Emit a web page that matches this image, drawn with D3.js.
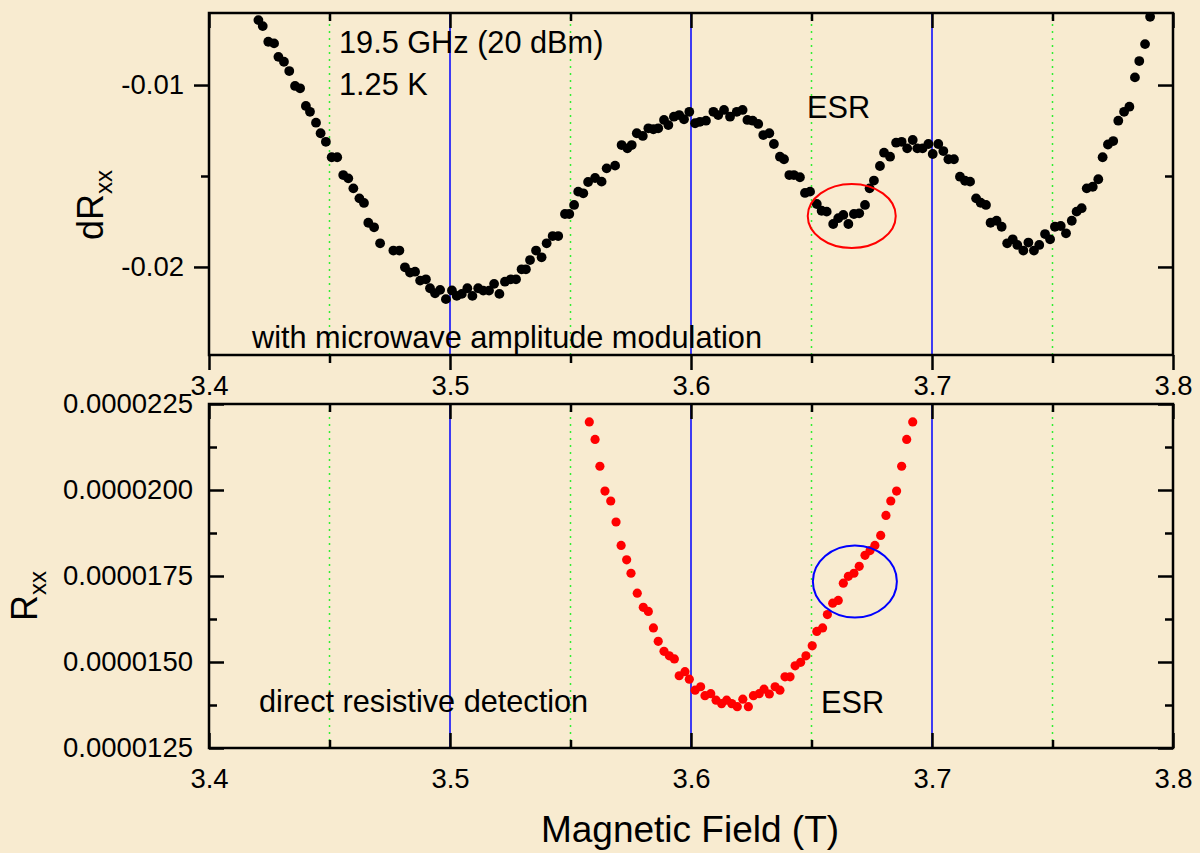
<!DOCTYPE html>
<html>
<head>
<meta charset="utf-8">
<script src="https://cdn.jsdelivr.net/npm/d3@7"></script>
<style>
  body { margin: 0; background: #f8ebd0; }
  svg { display: block; font-family: "Liberation Sans", Arial, sans-serif; }
  .axis path, .axis line { stroke: #000; stroke-width: 2.5; }
  .axis text { font-size: 27.5px; fill: #000; font-family: "Liberation Sans", Arial, sans-serif; }
  .ann { font-size: 30.7px; fill: #000; }
</style>
</head>
<body>
<script>
// top panel: dRxx vs field (with microwave amplitude modulation)
var fieldTop = [3.4205,3.4223,3.4246,3.4270,3.4288,3.4311,3.4333,3.4357,3.4378,3.4402,3.4419,3.4444,3.4463,3.4485,3.4509,3.4532,3.4557,3.4578,3.4599,3.4624,
  3.4643,3.4661,3.4685,3.4710,3.4765,3.4790,3.4813,3.4834,3.4855,3.4876,3.4900,3.4917,3.4938,3.4959,3.4983,3.5008,3.5028,3.5049,3.5072,3.5093,
  3.5117,3.5138,3.5162,3.5183,3.5205,3.5228,3.5252,3.5274,3.5297,3.5315,3.5332,3.5357,3.5380,3.5401,3.5426,3.5449,3.5477,3.5495,3.5515,3.5532,
  3.5553,3.5573,3.5602,3.5629,3.5650,3.5685,3.5712,3.5736,3.5754,3.5775,3.5800,3.5823,3.5844,3.5864,3.5888,3.5906,3.5929,3.5951,3.5971,3.5993,
  3.6017,3.6037,3.6062,3.6093,3.6113,3.6137,3.6162,3.6190,3.6214,3.6234,3.6256,3.6279,3.6300,3.6325,3.6344,3.6369,3.6386,3.6408,3.6427,3.6452,
  3.6473,3.6494,3.6522,3.6542,3.6563,3.6590,3.6611,3.6632,3.6653,3.6676,3.6698,3.6722,3.6741,3.6759,3.6784,3.6801,3.6826,3.6851,3.6874,3.6897,
  3.6920,3.6939,3.6961,3.6985,3.7003,3.7026,3.7047,3.7068,3.7091,3.7116,3.7137,3.7158,3.7183,3.7202,3.7224,3.7243,3.7268,3.7289,3.7312,3.7335,
  3.7354,3.7379,3.7400,3.7423,3.7445,3.7469,3.7490,3.7510,3.7534,3.7556,3.7580,3.7600,3.7621,3.7642,3.7667,3.7690,3.7708,3.7730,3.7752,3.7773,
  3.7797,3.7819,3.7842,3.7860,3.7884,3.7905];
var dRxx = [-0.00643,-0.00676,-0.00762,-0.00771,-0.00845,-0.00872,-0.00923,-0.01005,-0.01018,-0.01115,-0.01147,-0.01207,-0.01265,-0.01312,-0.01397,-0.01397,-0.01495,-0.01513,-0.01568,-0.01623,
  -0.01648,-0.01757,-0.01782,-0.01870,-0.01910,-0.01910,-0.02002,-0.02031,-0.02026,-0.02075,-0.02068,-0.02117,-0.02145,-0.02126,-0.02177,-0.02129,-0.02159,-0.02148,-0.02117,-0.02159,
  -0.02117,-0.02130,-0.02130,-0.02093,-0.02148,-0.02081,-0.02068,-0.02068,-0.02013,-0.02013,-0.01962,-0.01910,-0.01947,-0.01870,-0.01830,-0.01830,-0.01709,-0.01709,-0.01659,-0.01586,
  -0.01595,-0.01533,-0.01511,-0.01531,-0.01458,-0.01443,-0.01330,-0.01348,-0.01330,-0.01265,-0.01280,-0.01238,-0.01243,-0.01238,-0.01192,-0.01220,-0.01174,-0.01165,-0.01188,-0.01147,
  -0.01210,-0.01202,-0.01196,-0.01147,-0.01165,-0.01137,-0.01174,-0.01147,-0.01137,-0.01192,-0.01196,-0.01214,-0.01275,-0.01265,-0.01324,-0.01394,-0.01408,-0.01495,-0.01495,-0.01507,
  -0.01593,-0.01586,-0.01654,-0.01691,-0.01696,-0.01764,-0.01732,-0.01714,-0.01764,-0.01709,-0.01705,-0.01659,-0.01568,-0.01525,-0.01445,-0.01372,-0.01394,-0.01317,-0.01312,-0.01348,
  -0.01302,-0.01348,-0.01348,-0.01324,-0.01379,-0.01324,-0.01363,-0.01408,-0.01408,-0.01504,-0.01526,-0.01531,-0.01623,-0.01647,-0.01659,-0.01757,-0.01746,-0.01779,-0.01870,-0.01848,
  -0.01879,-0.01910,-0.01866,-0.01910,-0.01879,-0.01819,-0.01848,-0.01779,-0.01775,-0.01815,-0.01746,-0.01696,-0.01677,-0.01568,-0.01559,-0.01518,-0.01397,-0.01327,-0.01308,-0.01196,
  -0.01147,-0.01119,-0.00958,-0.00868,-0.00775,-0.00625];

// bottom panel: Rxx vs field (direct resistive detection)
var fieldBot = [3.5578,3.5602,3.5622,3.5643,3.5667,3.5689,3.5710,3.5733,3.5751,3.5777,3.5802,3.5823,3.5844,3.5864,3.5888,3.5910,3.5931,3.5951,3.5975,3.5993,
  3.6017,3.6040,3.6058,3.6082,3.6104,3.6127,3.6148,3.6169,3.6192,3.6215,3.6238,3.6259,3.6283,3.6303,3.6325,3.6349,3.6369,3.6390,3.6411,3.6432,
  3.6455,3.6477,3.6503,3.6522,3.6546,3.6566,3.6588,3.6611,3.6632,3.6653,3.6676,3.6698,3.6722,3.6743,3.6763,3.6787,3.6809,3.6829,3.6853,3.6874,
  3.6895,3.6920];
var rxx = [0.00002198,0.00002147,0.00002069,0.00001997,0.00001968,0.00001907,0.00001839,0.00001797,0.00001758,0.00001700,0.00001659,0.00001647,0.00001599,0.00001560,0.00001531,0.00001518,0.00001509,0.00001460,0.00001472,0.00001450,
  0.00001418,0.00001428,0.00001402,0.00001408,0.00001389,0.00001379,0.00001389,0.00001379,0.00001370,0.00001392,0.00001370,0.00001402,0.00001408,0.00001421,0.00001407,0.00001428,0.00001418,0.00001457,0.00001457,0.00001489,
  0.00001499,0.00001518,0.00001547,0.00001589,0.00001599,0.00001638,0.00001671,0.00001679,0.00001729,0.00001749,0.00001758,0.00001778,0.00001810,0.00001824,0.00001839,0.00001868,0.00001926,0.00001968,0.00001997,0.00002069,
  0.00002147,0.00002198];

var xMajor = [3.4,3.5,3.6,3.7,3.8];
var xMinor = [3.45,3.55,3.65,3.75];
var blueLines = [3.5,3.6,3.7];
var greenLines = [3.45,3.55,3.65,3.75];
var dMajor = [-0.01,-0.02];
var dMinor = [-0.015];
var rMajor = [0.0000125,0.0000150,0.0000175,0.0000200,0.0000225];
var rMinor = [0.00001375,0.00001625,0.00001875,0.00002125];

var W = 1200, H = 853;
var left = 209, right = 1173;

var svg = d3.select("body").append("svg").attr("width",W).attr("height",H);
svg.append("rect").attr("width",W).attr("height",H).attr("fill","#f8ebd0");

var x = d3.scaleLinear().domain([3.4,3.8]).range([left,right]);
var yTop = d3.scaleLinear().domain([-0.02484,-0.00604]).range([355,13]);
var yBot = d3.scaleLinear().domain([0.0000125,0.0000225]).range([748,404]);

function grid(g, y) {
  var r = y.range();
  g.selectAll("line.blue").data(blueLines).enter().append("line")
    .attr("x1",function(d){return x(d);}).attr("x2",function(d){return x(d);})
    .attr("y1",r[0]).attr("y2",r[1])
    .attr("stroke","#0000ff").attr("stroke-width",1.5);
  g.selectAll("line.green").data(greenLines).enter().append("line")
    .attr("x1",function(d){return x(d);}).attr("x2",function(d){return x(d);})
    .attr("y1",r[0]).attr("y2",r[1])
    .attr("stroke","#33ee33").attr("stroke-width",1.5).attr("stroke-dasharray","2,5");
}

function frame(y, xTicksOut, yTicksOut, yMajor, yMinor, yFmt) {
  var r = y.range(), yb = r[0], yt = r[1];
  var g = svg.append("g");
  var xs = xTicksOut ? 1 : -1;
  // bottom x
  g.append("g").attr("class","axis").attr("transform","translate(0,"+yb+")")
    .call(d3.axisBottom(x).tickValues(xMajor).tickSize(15*xs).tickSizeOuter(0).tickFormat(d3.format(".1f")))
    .call(function(a){ a.selectAll("text").attr("y",20).attr("dy","0.71em"); });
  g.append("g").attr("class","axis").attr("transform","translate(0,"+yb+")")
    .call(d3.axisBottom(x).tickValues(xMinor).tickSize(8*xs).tickSizeOuter(0).tickFormat(""));
  // top x (inward)
  g.append("g").attr("class","axis").attr("transform","translate(0,"+yt+")")
    .call(d3.axisBottom(x).tickValues(xMajor).tickSize(15).tickSizeOuter(0).tickFormat(""));
  g.append("g").attr("class","axis").attr("transform","translate(0,"+yt+")")
    .call(d3.axisBottom(x).tickValues(xMinor).tickSize(8).tickSizeOuter(0).tickFormat(""));
  g.selectAll(".axis path").remove();
  // left y
  var ys = yTicksOut ? 1 : -1;
  g.append("g").attr("class","axis").attr("transform","translate("+left+",0)")
    .call(d3.axisLeft(y).tickValues(yMajor).tickSize(15*ys).tickSizeOuter(0).tickFormat(yFmt))
    .call(function(a){ a.select("path").remove(); a.selectAll("text").attr("x", yTicksOut ? -25 : -16); });
  g.append("g").attr("class","axis").attr("transform","translate("+left+",0)")
    .call(d3.axisLeft(y).tickValues(yMinor).tickSize(8*ys).tickSizeOuter(0).tickFormat(""))
    .call(function(a){ a.select("path").remove(); });
  // right y (inward)
  g.append("g").attr("class","axis").attr("transform","translate("+right+",0)")
    .call(d3.axisLeft(y).tickValues(yMajor).tickSize(-15).tickSizeOuter(0).tickFormat(""))
    .call(function(a){ a.select("path").remove(); a.selectAll("line").attr("x2",-15); });
  g.append("g").attr("class","axis").attr("transform","translate("+right+",0)")
    .call(d3.axisLeft(y).tickValues(yMinor).tickSize(-8).tickSizeOuter(0).tickFormat(""))
    .call(function(a){ a.select("path").remove(); a.selectAll("line").attr("x2",-8); });
  g.append("rect").attr("x",left).attr("y",yt).attr("width",right-left).attr("height",yb-yt)
    .attr("fill","none").attr("stroke","#000").attr("stroke-width",2.5);
}

// panels
var gTop = svg.append("g");
grid(gTop, yTop);
var gBot = svg.append("g");
grid(gBot, yBot);

frame(yTop, true, true, dMajor, dMinor, function(d){ return d.toFixed(2); });
frame(yBot, false, false, rMajor, rMinor, function(d){ return d.toFixed(7); });

// data points
var topPts = fieldTop.map(function(f,i){ return [f, dRxx[i]]; });
gTop.selectAll("circle").data(topPts).enter().append("circle")
  .attr("cx",function(d){return x(d[0]);})
  .attr("cy",function(d){return yTop(d[1]);})
  .attr("r",4.9).attr("fill","#000");

var botPts = fieldBot.map(function(f,i){ return [f, rxx[i]]; });
gBot.selectAll("circle").data(botPts).enter().append("circle")
  .attr("cx",function(d){return x(d[0]);})
  .attr("cy",function(d){return yBot(d[1]);})
  .attr("r",4.6).attr("fill","#ff0000");

// ESR ellipses
svg.append("ellipse").attr("cx",x(3.6667)).attr("cy",yTop(-0.01720)).attr("rx",44).attr("ry",32)
  .attr("fill","none").attr("stroke","#ff0000").attr("stroke-width",2);
svg.append("ellipse").attr("cx",x(3.6680)).attr("cy",yBot(0.00001734)).attr("rx",42).attr("ry",36)
  .attr("fill","none").attr("stroke","#0000ff").attr("stroke-width",2);

// annotations
svg.append("text").attr("class","ann").attr("x",339).attr("y",53).text("19.5 GHz (20 dBm)");
svg.append("text").attr("class","ann").attr("x",339).attr("y",95).text("1.25 K");
svg.append("text").attr("class","ann").attr("x",807).attr("y",118).text("ESR");
svg.append("text").attr("class","ann").attr("x",252).attr("y",348).text("with microwave amplitude modulation");
svg.append("text").attr("class","ann").attr("x",259).attr("y",712).text("direct resistive detection");
svg.append("text").attr("class","ann").attr("x",821).attr("y",713).text("ESR");

// axis titles
var t1 = svg.append("text").attr("transform","translate(103,205) rotate(-90)")
  .attr("text-anchor","middle").attr("font-size",36).attr("fill","#000");
t1.append("tspan").text("dR");
t1.append("tspan").attr("font-size",24).attr("dy",9).text("xx");

var t2 = svg.append("text").attr("transform","translate(37,596) rotate(-90)")
  .attr("text-anchor","middle").attr("font-size",36).attr("fill","#000");
t2.append("tspan").text("R");
t2.append("tspan").attr("font-size",24).attr("dy",9).text("xx");

svg.append("text").attr("x",690).attr("y",842).attr("text-anchor","middle")
  .attr("font-size",37).attr("fill","#000").text("Magnetic Field (T)");
</script>
</body>
</html>
